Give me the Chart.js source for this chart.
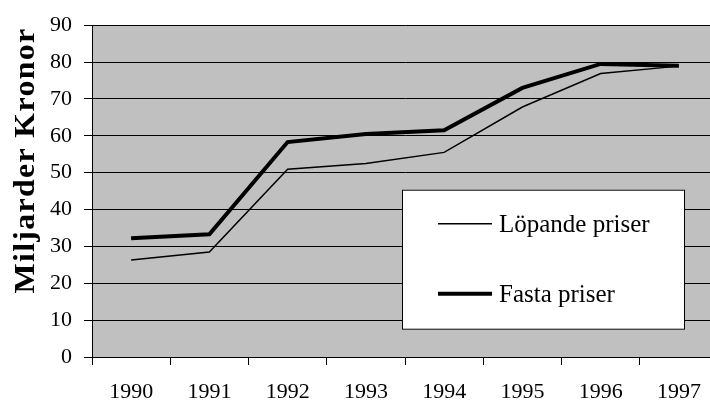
<!DOCTYPE html>
<html>
<head>
<meta charset="utf-8">
<script src="https://cdn.jsdelivr.net/npm/chart.js@4/dist/chart.umd.min.js"></script>
<style>
  html, body { margin: 0; padding: 0; background: #ffffff; overflow: hidden; }
  #wrap { position: relative; width: 718px; height: 403px; }
</style>
</head>
<body>
<div id="wrap"><canvas id="c"></canvas></div>
<script>
// Years on the category axis
const years = ['1990', '1991', '1992', '1993', '1994', '1995', '1996', '1997'];

// Current prices (billions of kronor)
const lopandePriser = [26.3, 28.5, 50.9, 52.5, 55.5, 67.8, 76.9, 78.9];

// Fixed prices (billions of kronor)
const fastaPriser = [32.2, 33.3, 58.3, 60.5, 61.5, 73.0, 79.5, 79.0];

// Value axis range and step
const yMin = 0;
const yMax = 90;
const yStep = 10;

const seriesNames = ['Löpande priser', 'Fasta priser'];
const axisTitle = 'Miljarder Kronor';

const serif = '"Liberation Serif", "Times New Roman", serif';

// Grey plotting area behind the lines
const plotBackground = {
  id: 'plotBackground',
  beforeDraw(chart) {
    const { ctx, chartArea: a } = chart;
    ctx.save();
    ctx.fillStyle = '#c0c0c0';
    ctx.fillRect(a.left, a.top, a.right - a.left, a.bottom - a.top);
    ctx.restore();
  }
};

// Rotated, slightly widened value-axis title
const axisTitlePlugin = {
  id: 'axisTitlePlugin',
  afterDraw(chart) {
    const { ctx } = chart;
    ctx.save();
    ctx.translate(34, 160.5);
    ctx.rotate(-Math.PI / 2);
    ctx.scale(1.1, 1);
    ctx.font = 'bold 29px ' + serif;
    ctx.fillStyle = '#000000';
    ctx.textAlign = 'center';
    ctx.textBaseline = 'alphabetic';
    if ('letterSpacing' in ctx) ctx.letterSpacing = '1.2px';
    ctx.fillText(axisTitle, 0, 0);
    ctx.restore();
  }
};

// Boxed legend placed inside the plotting area
const boxedLegend = {
  id: 'boxedLegend',
  afterDraw(chart) {
    const { ctx, chartArea: a } = chart;
    const left = a.left + 310, top = a.top + 164.5;
    const w = 283, h = 140;
    ctx.save();
    ctx.fillStyle = '#ffffff';
    ctx.fillRect(left, top, w, h);
    ctx.strokeStyle = '#000000';
    ctx.lineWidth = 1;
    ctx.strokeRect(left + 0.5, top + 0.5, w - 1, h - 1);
    const rows = [top + 34, top + 104];
    chart.data.datasets.forEach((ds, i) => {
      const y = rows[i];
      ctx.beginPath();
      ctx.strokeStyle = ds.borderColor;
      ctx.lineWidth = ds.borderWidth;
      ctx.moveTo(left + 36, y);
      ctx.lineTo(left + 90, y);
      ctx.stroke();
      ctx.fillStyle = '#000000';
      ctx.font = '25px ' + serif;
      ctx.textAlign = 'left';
      ctx.textBaseline = 'alphabetic';
      ctx.fillText(ds.label, left + 97, y + 8);
    });
    ctx.restore();
  }
};

new Chart(document.getElementById('c'), {
  type: 'line',
  data: {
    labels: years,
    datasets: [
      {
        label: seriesNames[0],
        data: lopandePriser,
        borderColor: '#000000',
        borderWidth: 1.5,
        pointRadius: 0,
        tension: 0,
        fill: false
      },
      {
        label: seriesNames[1],
        data: fastaPriser,
        borderColor: '#000000',
        borderWidth: 4,
        pointRadius: 0,
        tension: 0,
        fill: false
      }
    ]
  },
  options: {
    responsive: true,
    maintainAspectRatio: false,
    animation: false,
    events: [],
    layout: { padding: { top: 25, right: 0, bottom: 0, left: 0 } },
    plugins: {
      legend: { display: false },
      tooltip: { enabled: false },
      title: { display: false }
    },
    scales: {
      x: {
        type: 'category',
        offset: true,
        grid: {
          offset: true,
          drawOnChartArea: false,
          drawTicks: true,
          tickLength: 8,
          color: '#000000',
          lineWidth: 1
        },
        border: { display: true, color: '#000000', width: 1 },
        ticks: {
          color: '#000000',
          font: { family: serif, size: 22 },
          padding: 14,
          maxRotation: 0,
          autoSkip: false
        },
        afterFit(scale) { scale.height = 46; }
      },
      y: {
        min: yMin,
        max: yMax,
        grid: {
          drawOnChartArea: true,
          drawTicks: true,
          tickLength: 8,
          color: '#000000',
          lineWidth: 1
        },
        border: { display: true, color: '#000000', width: 1 },
        ticks: {
          stepSize: yStep,
          color: '#000000',
          font: { family: serif, size: 22 },
          padding: 12
        },
        afterFit(scale) { scale.width = 92; }
      }
    }
  },
  plugins: [plotBackground, axisTitlePlugin, boxedLegend]
});
</script>
</body>
</html>
